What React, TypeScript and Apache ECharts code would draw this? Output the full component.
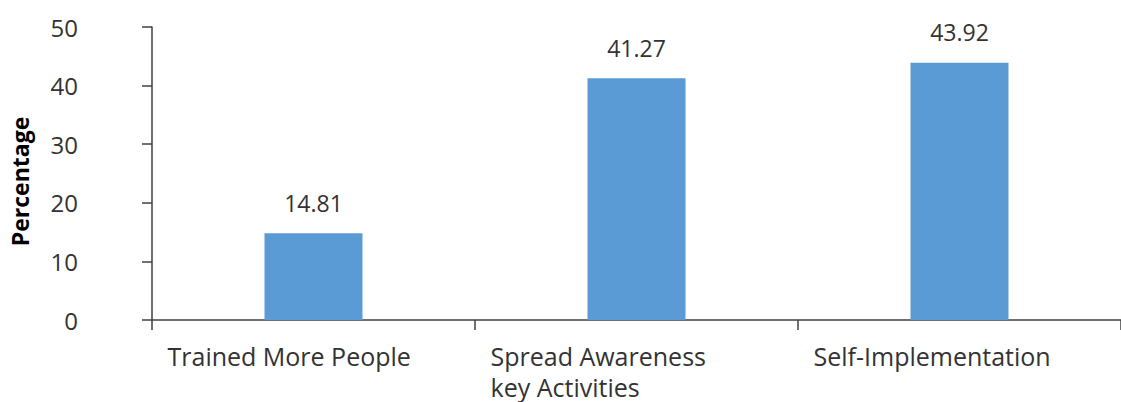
import React, { useEffect, useRef } from "react";
import * as echarts from "echarts";

const categories = ["Trained More People", "Spread Awareness\nkey Activities", "Self-Implementation"];
const values = [14.81, 41.27, 43.92];
const yTicks = { min: 0, max: 50, interval: 10 };

const FONT = "'Open Sans', 'Noto Sans', sans-serif";
const TEXT = "#333333";
const AXIS = "#404040";

export default function App() {
  const ref = useRef<HTMLDivElement>(null);
  useEffect(() => {
    if (!ref.current) return;
    const chart = echarts.init(ref.current, null, { renderer: "svg" });
    chart.setOption({
      animation: false,
      textStyle: { fontFamily: FONT },
      grid: { left: 152, right: 0, top: 27, bottom: 82 },
      xAxis: {
        type: "category",
        data: categories,
        axisLine: { show: true, lineStyle: { color: AXIS, width: 1.5 } },
        axisTick: { show: true, length: 10, lineStyle: { color: AXIS, width: 1.5 } },
        axisLabel: {
          interval: 0,
          margin: 20,
          formatter: (v: string) => v.split("\n").map((s) => `{a|${s}}`).join("\n"),
          rich: {
            a: { width: 292, align: "left", fontSize: 25, lineHeight: 31, color: TEXT, fontFamily: FONT },
          },
        },
      },
      yAxis: {
        type: "value",
        min: yTicks.min,
        max: yTicks.max,
        interval: yTicks.interval,
        name: "Percentage",
        nameLocation: "middle",
        nameGap: 121,
        nameTextStyle: {
          fontWeight: "bold",
          fontSize: 23,
          color: "#000",
          fontFamily: FONT,
          padding: [0, 16, 0, 0],
        },
        axisLine: { show: true, lineStyle: { color: AXIS, width: 1.5 } },
        axisTick: { show: true, length: 10, lineStyle: { color: AXIS, width: 1.5 } },
        splitLine: { show: false },
        axisLabel: { margin: 74, fontSize: 24, color: TEXT, fontFamily: FONT },
      },
      series: [
        {
          type: "bar",
          data: values,
          barWidth: 98,
          itemStyle: { color: "#5B9BD5" },
          label: {
            show: true,
            position: "top",
            distance: 19,
            fontSize: 23,
            color: TEXT,
            fontFamily: FONT,
          },
        },
      ],
    });
    return () => chart.dispose();
  }, []);
  return (
    <div
      ref={ref}
      style={{ position: "absolute", left: 0, top: 0, width: 1121, height: 402, background: "#fff" }}
    />
  );
}
